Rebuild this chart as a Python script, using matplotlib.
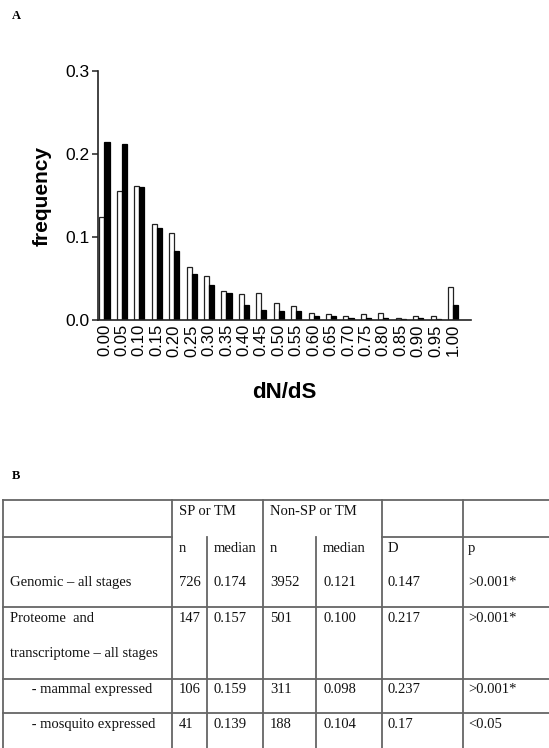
import matplotlib
matplotlib.use("Agg")
import matplotlib.pyplot as plt
import numpy as np

# ---------------- data ----------------
bins = ["0.00", "0.05", "0.10", "0.15", "0.20", "0.25", "0.30", "0.35", "0.40", "0.45",
        "0.50", "0.55", "0.60", "0.65", "0.70", "0.75", "0.80", "0.85", "0.90", "0.95", "1.00"]
freq_white = [0.1235, 0.156, 0.162, 0.116, 0.105, 0.064, 0.053, 0.035, 0.031, 0.033,
              0.020, 0.0165, 0.0085, 0.007, 0.005, 0.007, 0.0085, 0.0025, 0.005, 0.005, 0.040]
freq_black = [0.215, 0.2126, 0.160, 0.111, 0.083, 0.055, 0.042, 0.0325, 0.018, 0.0125,
              0.0105, 0.0105, 0.005, 0.0045, 0.003, 0.0025, 0.003, 0.0015, 0.003, 0.0015, 0.018]
yticks = [0.0, 0.1, 0.2, 0.3]
yticklabels = ["0.0", "0.1", "0.2", "0.3"]

table_group_headers = ["SP or TM", "Non-SP or TM"]
table_col_headers = ["n", "median", "n", "median", "D", "p"]
row_labels = [["Genomic \u2013 all stages"],
              ["Proteome  and", "transcriptome \u2013 all stages"],
              ["      - mammal expressed"],
              ["      - mosquito expressed"]]
row_values = [["726", "0.174", "3952", "0.121", "0.147", ">0.001*"],
              ["147", "0.157", "501", "0.100", "0.217", ">0.001*"],
              ["106", "0.159", "311", "0.098", "0.237", ">0.001*"],
              ["41", "0.139", "188", "0.104", "0.17", "<0.05"]]

# ---------------- figure ----------------
W, H = 549, 748
fig = plt.figure(figsize=(W / 100, H / 100), dpi=100)
fig.patch.set_facecolor("white")

def fx(px):
    return px / W

def fy(py):
    return 1 - py / H

# panel A
ax = fig.add_axes([fx(98), fy(320), fx(471) - fx(98), fy(71) - fy(320)])
x = np.arange(len(bins))
w = 0.29
ax.bar(x - w / 2, freq_white, width=w, color="white", edgecolor="#222222", linewidth=0.9)
ax.bar(x + w / 2, freq_black, width=w, color="black", edgecolor="black", linewidth=0.9)
ax.set_xlim(-0.37, 21.03)
ax.set_ylim(0, 0.3)
ax.set_xticks(x)
ax.set_xticklabels(bins, rotation=90, fontsize=12, family="Liberation Sans")
ax.set_yticks(yticks)
ax.set_yticklabels(yticklabels, fontsize=12.5, family="Liberation Sans")
ax.tick_params(axis="x", length=0, pad=3)
ax.tick_params(axis="y", length=4, width=1.1, direction="out", pad=2, color="#222222")
for s in ["top", "right"]:
    ax.spines[s].set_visible(False)
for s in ["left", "bottom"]:
    ax.spines[s].set_linewidth(1.2)
    ax.spines[s].set_color("#222222")
ax.set_ylabel("frequency", fontsize=15, fontweight="bold", family="Liberation Sans", labelpad=10)
ax.set_xlabel("dN/dS", fontsize=16, fontweight="bold", family="Liberation Sans", labelpad=18)

fig.text(fx(12), fy(19), "A", fontsize=9, fontweight="bold", family="Liberation Serif", va="baseline")
fig.text(fx(12), fy(479), "B", fontsize=9, fontweight="bold", family="Liberation Serif", va="baseline")

# panel B: table drawn on an overlay axes in pixel coordinates
tax = fig.add_axes([0, 0, 1, 1])
tax.set_xlim(0, W)
tax.set_ylim(H, 0)
tax.axis("off")

lc = "#666666"
lw = 1.3
left, right = 3.3, 560
col_x = [3.3, 172.3, 206.7, 263.3, 316, 382.3, 462.7]
top_y, sub_y = 500, 537
row_y = [607, 679, 713]
bottom = 760

# horizontals
tax.plot([left, right], [top_y, top_y], color=lc, lw=lw)
tax.plot([left, col_x[1]], [sub_y, sub_y], color=lc, lw=lw)
tax.plot([col_x[5], right], [sub_y, sub_y], color=lc, lw=lw)
for yy in row_y:
    tax.plot([left, right], [yy, yy], color=lc, lw=lw)
# verticals
for i, xx in enumerate(col_x):
    y0 = sub_y if i in (2, 4) else top_y
    tax.plot([xx, xx], [y0, bottom], color=lc, lw=lw)

tf = dict(fontsize=10.5, family="Liberation Serif", color="#111111", va="baseline")
text_x = [179, 214, 270, 323, 388, 468]
tax.text(179, 515, table_group_headers[0], **tf)
tax.text(270, 515, table_group_headers[1], **tf)
for tx, hdr in zip(text_x, table_col_headers):
    tax.text(tx, 552, hdr, **tf)

row_base = [586, 622, 693, 728]
line_gap = 35
for lbls, vals, yb in zip(row_labels, row_values, row_base):
    for k, lbl in enumerate(lbls):
        tax.text(10, yb + k * line_gap, lbl, **tf)
    for tx, v in zip(text_x, vals):
        tax.text(tx, yb, v, **tf)

fig.savefig("out.png", dpi=100, facecolor="white")
